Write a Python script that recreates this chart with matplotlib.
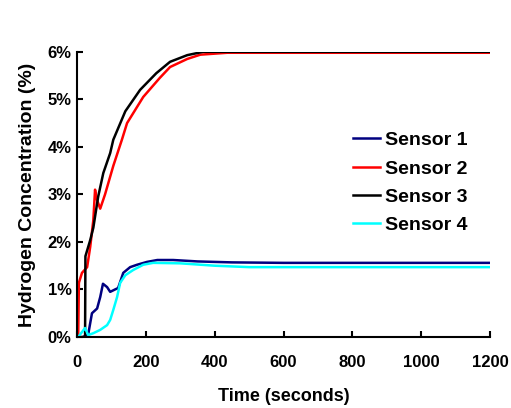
import matplotlib
matplotlib.use("Agg")
import matplotlib.pyplot as plt
from matplotlib.ticker import PercentFormatter

# readings (time in s, concentration in %)
t1 = [17, 32, 43, 58, 67, 75, 87, 96, 110, 119, 134, 154, 174, 203, 233, 279, 350, 450, 600, 800, 1000, 1200]
s1 = [0.0, 0.05, 0.5, 0.6, 0.84, 1.12, 1.05, 0.95, 1.0, 1.03, 1.35, 1.47, 1.52, 1.58, 1.62, 1.62, 1.59, 1.57, 1.56, 1.56, 1.56, 1.56]

t2 = [0, 3, 5, 14, 29, 38, 47, 52, 57, 67, 81, 105, 130, 145, 192, 240, 270, 320, 358, 436, 600, 800, 1000, 1200]
s2 = [0.0, 0.0, 1.14, 1.35, 1.47, 1.9, 2.46, 3.1, 2.9, 2.7, 3.0, 3.6, 4.15, 4.5, 5.05, 5.45, 5.68, 5.85, 5.94, 5.98, 5.98, 5.98, 5.98, 5.98]

t3 = [0, 17, 23, 24, 38, 47, 61, 76, 96, 105, 140, 183, 230, 270, 320, 366, 450, 600, 800, 1000, 1200]
s3 = [0.0, 0.0, 0.0, 1.7, 2.04, 2.3, 2.95, 3.45, 3.87, 4.15, 4.75, 5.2, 5.55, 5.79, 5.93, 6.0, 6.0, 6.0, 6.0, 6.0, 6.0]

t4 = [3, 23, 32, 47, 67, 87, 96, 105, 116, 125, 140, 163, 192, 221, 300, 400, 500, 700, 900, 1200]
s4 = [0.0, 0.19, 0.04, 0.08, 0.15, 0.25, 0.36, 0.57, 0.84, 1.14, 1.3, 1.41, 1.52, 1.56, 1.55, 1.5, 1.47, 1.47, 1.47, 1.47]

labels = ["Sensor 1", "Sensor 2", "Sensor 3", "Sensor 4"]
colors = ["#000080", "#ff0000", "#000000", "#00ffff"]

plt.rcParams["font.family"] = ["Liberation Sans", "DejaVu Sans"]
plt.rcParams["font.weight"] = "bold"

fig = plt.figure(figsize=(5.11, 4.08), dpi=100)
ax = fig.add_axes([0.151, 0.174, 0.808, 0.699])

for (t, s), lab, c in zip([(t1, s1), (t2, s2), (t3, s3), (t4, s4)], labels, colors):
    ax.plot(t, s, color=c, lw=1.8, label=lab)

ax.set_xlim(0, 1200)
ax.set_ylim(0, 6)
ax.set_xticks(range(0, 1201, 200))
ax.set_yticks(range(0, 7))
ax.yaxis.set_major_formatter(PercentFormatter(decimals=0))
ax.tick_params(direction="in", length=4, width=1.5, labelsize=12)
ax.tick_params(axis="x", pad=13)
ax.tick_params(axis="y", pad=4)
for sp in ["top", "right"]:
    ax.spines[sp].set_visible(False)
for sp in ["left", "bottom"]:
    ax.spines[sp].set_linewidth(1.5)

ax.set_xlabel("Time (seconds)", fontsize=13, fontweight="bold", labelpad=13)
ax.set_ylabel("Hydrogen Concentration (%)", fontsize=14, fontweight="bold", labelpad=8)

ax.legend(loc="upper left", bbox_to_anchor=(0.668, 0.72), frameon=False,
          borderpad=0, borderaxespad=0,
          fontsize=14, handlelength=1.4, handletextpad=0.25, labelspacing=0.55)

fig.savefig("out.png", dpi=100)
